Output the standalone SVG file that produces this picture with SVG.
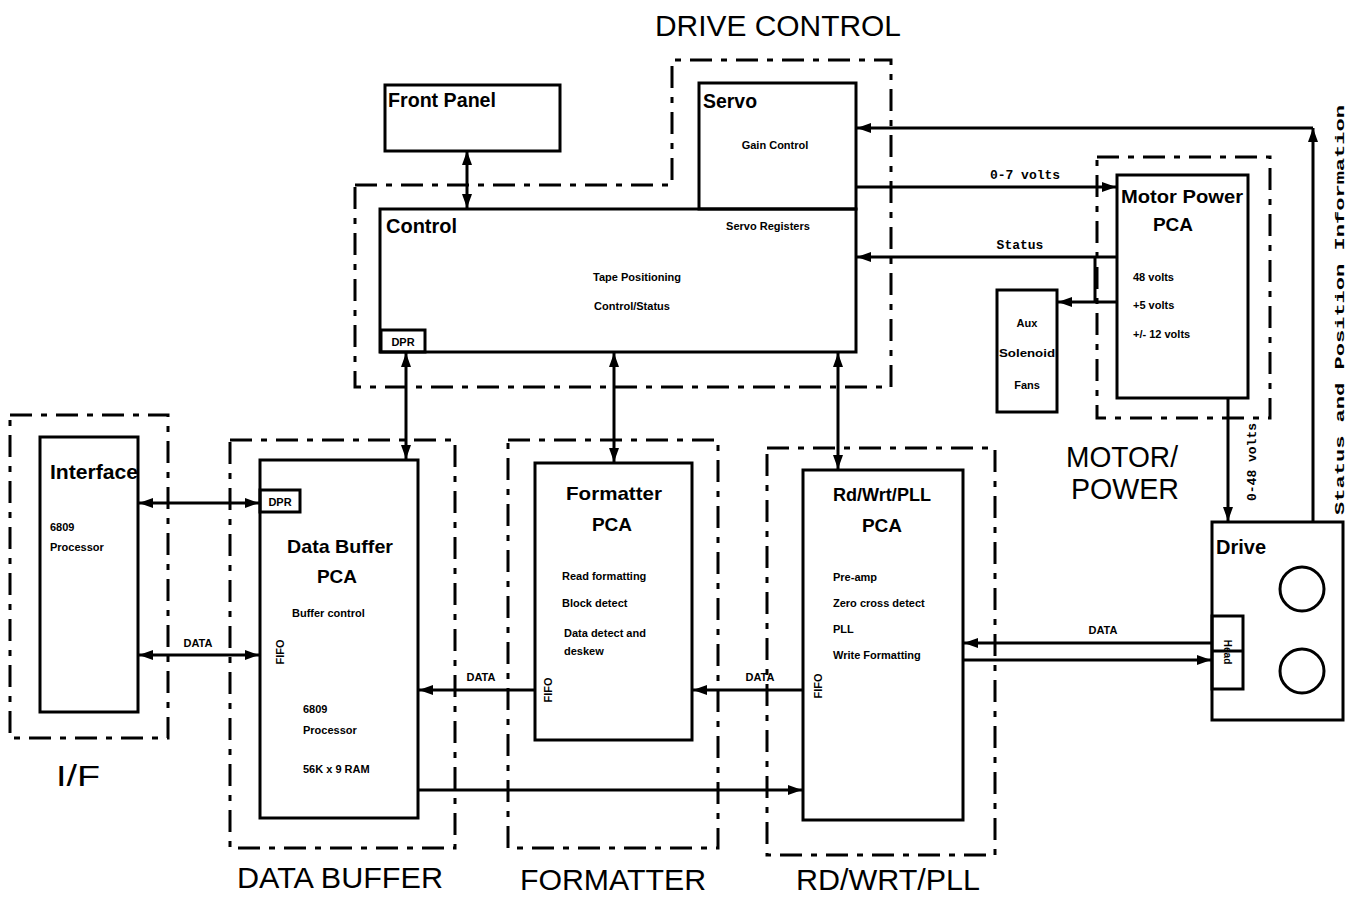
<svg xmlns="http://www.w3.org/2000/svg" width="1356" height="899" viewBox="0 0 1356 899">
<style>
.bx{fill:none;stroke:#000;stroke-width:3}
.grp{fill:none;stroke:#000;stroke-width:3;stroke-dasharray:22 9 6 9}
.ln{fill:none;stroke:#000;stroke-width:3}
.t{font-family:"Liberation Sans",Arial,sans-serif;fill:#000}
.big{font-size:30px}
.hd{font-size:20px;font-weight:bold}
.pc{font-size:19px;font-weight:bold}
.sm{font-size:11px;font-weight:bold}
.mono{font-family:"Liberation Mono","Courier New",monospace;font-weight:bold;font-size:13px;fill:#000}
</style>
<defs>
<marker id="ah" viewBox="0 0 14 10" refX="14" refY="5" markerWidth="14" markerHeight="10" markerUnits="userSpaceOnUse" orient="auto-start-reverse">
<path d="M0,0 L14,5 L0,10 z" fill="#000"/>
</marker>
</defs>
<rect width="1356" height="899" fill="#fff"/>

<text class="t big" x="778" y="36" text-anchor="middle" textLength="246" lengthAdjust="spacingAndGlyphs">DRIVE CONTROL</text>

<g id="drive-control-group">
<path class="grp" d="M355,185 H672 V60 H891 V387 H355 Z"/>
</g>
<g id="front-panel">
<rect class="bx" x="385" y="85" width="175" height="66"/>
<text class="t hd" x="388" y="107" textLength="108" lengthAdjust="spacingAndGlyphs">Front Panel</text>
</g>
<g id="servo">
<rect class="bx" x="699" y="83" width="157" height="126"/>
<text class="t hd" x="703" y="108" textLength="54" lengthAdjust="spacingAndGlyphs">Servo</text>
<text class="t sm" x="775" y="149" text-anchor="middle">Gain Control</text>
</g>
<g id="control">
<rect class="bx" x="380" y="209" width="476" height="143"/>
<text class="t hd" x="386" y="233" textLength="71" lengthAdjust="spacingAndGlyphs">Control</text>
<text class="t sm" x="768" y="230" text-anchor="middle">Servo Registers</text>
<text class="t sm" x="637" y="281" text-anchor="middle">Tape Positioning</text>
<text class="t sm" x="632" y="310" text-anchor="middle">Control/Status</text>
<rect class="bx" x="381" y="330" width="44" height="22"/>
<text class="t sm" x="403" y="346" text-anchor="middle">DPR</text>
</g>

<g id="motor-power-group">
<path class="grp" d="M1097,157 H1270 V418 H1097 Z"/>
<text class="t big" x="1122" y="467" text-anchor="middle" textLength="112" lengthAdjust="spacingAndGlyphs">MOTOR/</text>
<text class="t big" x="1125" y="499" text-anchor="middle" textLength="108" lengthAdjust="spacingAndGlyphs">POWER</text>
</g>
<g id="motor-power">
<rect class="bx" x="1117" y="175" width="131" height="223"/>
<text class="t pc" x="1182" y="203" text-anchor="middle" textLength="122" lengthAdjust="spacingAndGlyphs">Motor Power</text>
<text class="t pc" x="1173" y="231" text-anchor="middle">PCA</text>
<text class="t sm" x="1133" y="281">48 volts</text>
<text class="t sm" x="1133" y="309">+5 volts</text>
<text class="t sm" x="1133" y="338">+/- 12 volts</text>
</g>
<g id="aux">
<rect class="bx" x="997" y="290" width="60" height="122"/>
<text class="t sm" x="1027" y="327" text-anchor="middle">Aux</text>
<text class="t sm" x="1027" y="357" text-anchor="middle" textLength="56" lengthAdjust="spacingAndGlyphs">Solenoid</text>
<text class="t sm" x="1027" y="389" text-anchor="middle">Fans</text>
</g>

<g id="drive">
<rect class="bx" x="1212" y="522" width="131" height="198"/>
<text class="t hd" x="1216" y="554">Drive</text>
<circle class="bx" cx="1302" cy="589" r="22"/>
<circle class="bx" cx="1302" cy="671" r="22"/>
<rect class="bx" x="1212" y="616" width="31" height="73"/>
<line class="bx" x1="1212" y1="651" x2="1243" y2="651"/>
<text class="t" font-size="10" font-weight="bold" x="0" y="0" transform="translate(1224,652) rotate(90)" text-anchor="middle">Head</text>
</g>

<g id="if-group">
<path class="grp" d="M10,415 H168 V738 H10 Z"/>
<text class="t big" x="78" y="786" text-anchor="middle" textLength="44" lengthAdjust="spacingAndGlyphs">I/F</text>
</g>
<g id="interface">
<rect class="bx" x="40" y="437" width="98" height="275"/>
<text class="t hd" x="50" y="479" textLength="88" lengthAdjust="spacingAndGlyphs">Interface</text>
<text class="t sm" x="50" y="531">6809</text>
<text class="t sm" x="50" y="551">Processor</text>
</g>

<g id="data-buffer-group">
<path class="grp" d="M230,440 H455 V848 H230 Z"/>
<text class="t big" x="340" y="888" text-anchor="middle" textLength="206" lengthAdjust="spacingAndGlyphs">DATA BUFFER</text>
</g>
<g id="data-buffer">
<rect class="bx" x="260" y="460" width="158" height="358"/>
<rect class="bx" x="260" y="490" width="40" height="22"/>
<text class="t sm" x="280" y="506" text-anchor="middle">DPR</text>
<text class="t pc" x="340" y="553" text-anchor="middle" textLength="106" lengthAdjust="spacingAndGlyphs">Data Buffer</text>
<text class="t pc" x="337" y="583" text-anchor="middle">PCA</text>
<text class="t sm" x="292" y="617">Buffer control</text>
<text class="t sm" x="0" y="0" transform="translate(284,652) rotate(-90)" text-anchor="middle">FIFO</text>
<text class="t sm" x="303" y="713">6809</text>
<text class="t sm" x="303" y="734">Processor</text>
<text class="t sm" x="303" y="773">56K x 9 RAM</text>
</g>

<g id="formatter-group">
<path class="grp" d="M508,440 H718 V848 H508 Z"/>
<text class="t big" x="613" y="890" text-anchor="middle" textLength="186" lengthAdjust="spacingAndGlyphs">FORMATTER</text>
</g>
<g id="formatter">
<rect class="bx" x="535" y="463" width="157" height="277"/>
<text class="t pc" x="614" y="500" text-anchor="middle" textLength="96" lengthAdjust="spacingAndGlyphs">Formatter</text>
<text class="t pc" x="612" y="531" text-anchor="middle">PCA</text>
<text class="t sm" x="562" y="580">Read formatting</text>
<text class="t sm" x="562" y="607">Block detect</text>
<text class="t sm" x="564" y="637">Data detect and</text>
<text class="t sm" x="564" y="655">deskew</text>
<text class="t sm" x="0" y="0" transform="translate(552,690) rotate(-90)" text-anchor="middle">FIFO</text>
</g>

<g id="rdwrt-group">
<path class="grp" d="M767,448 H995 V855 H767 Z"/>
<text class="t big" x="888" y="890" text-anchor="middle" textLength="184" lengthAdjust="spacingAndGlyphs">RD/WRT/PLL</text>
</g>
<g id="rdwrt">
<rect class="bx" x="803" y="470" width="160" height="350"/>
<text class="t pc" x="882" y="501" text-anchor="middle" textLength="98" lengthAdjust="spacingAndGlyphs">Rd/Wrt/PLL</text>
<text class="t pc" x="882" y="532" text-anchor="middle">PCA</text>
<text class="t sm" x="833" y="581">Pre-amp</text>
<text class="t sm" x="833" y="607">Zero cross detect</text>
<text class="t sm" x="833" y="633">PLL</text>
<text class="t sm" x="833" y="659">Write Formatting</text>
<text class="t sm" x="0" y="0" transform="translate(822,686) rotate(-90)" text-anchor="middle">FIFO</text>
</g>

<g id="connectors">
<path class="ln" d="M467,151 V208" marker-start="url(#ah)" marker-end="url(#ah)"/>
<path class="ln" d="M406,353 V459" marker-start="url(#ah)" marker-end="url(#ah)"/>
<path class="ln" d="M614,353 V462" marker-start="url(#ah)" marker-end="url(#ah)"/>
<path class="ln" d="M838,353 V469" marker-start="url(#ah)" marker-end="url(#ah)"/>
<path class="ln" d="M1313,522 V128" marker-end="url(#ah)"/>
<path class="ln" d="M1313,128 H857" marker-end="url(#ah)"/>
<path class="ln" d="M857,187 H1116" marker-end="url(#ah)"/>
<text class="mono" x="1025" y="179" text-anchor="middle">0-7 volts</text>
<path class="ln" d="M1116,257 H857" marker-end="url(#ah)"/>
<text class="mono" x="1020" y="249" text-anchor="middle">Status</text>
<path class="ln" d="M1095,257 V302"/>
<path class="ln" d="M1116,302 H1058" marker-end="url(#ah)"/>
<path class="ln" d="M1228,399 V521" marker-end="url(#ah)"/>
<text class="mono" x="0" y="0" font-size="12" transform="translate(1256,462) rotate(-90)" text-anchor="middle">0-48 volts</text>
<text class="mono" x="0" y="0" font-size="20" transform="translate(1344,310) rotate(-90)" text-anchor="middle" textLength="410" lengthAdjust="spacingAndGlyphs">Status and Position Information</text>
<path class="ln" d="M139,503 H259" marker-start="url(#ah)" marker-end="url(#ah)"/>
<path class="ln" d="M139,655 H259" marker-start="url(#ah)" marker-end="url(#ah)"/>
<text class="t sm" x="198" y="647" text-anchor="middle">DATA</text>
<path class="ln" d="M535,690 H419" marker-end="url(#ah)"/>
<text class="t sm" x="481" y="681" text-anchor="middle">DATA</text>
<path class="ln" d="M803,690 H693" marker-end="url(#ah)"/>
<text class="t sm" x="760" y="681" text-anchor="middle">DATA</text>
<path class="ln" d="M418,790 H802" marker-end="url(#ah)"/>
<path class="ln" d="M1212,643 H964" marker-end="url(#ah)"/>
<path class="ln" d="M963,660 H1211" marker-end="url(#ah)"/>
<text class="t sm" x="1103" y="634" text-anchor="middle">DATA</text>
</g>
</svg>
